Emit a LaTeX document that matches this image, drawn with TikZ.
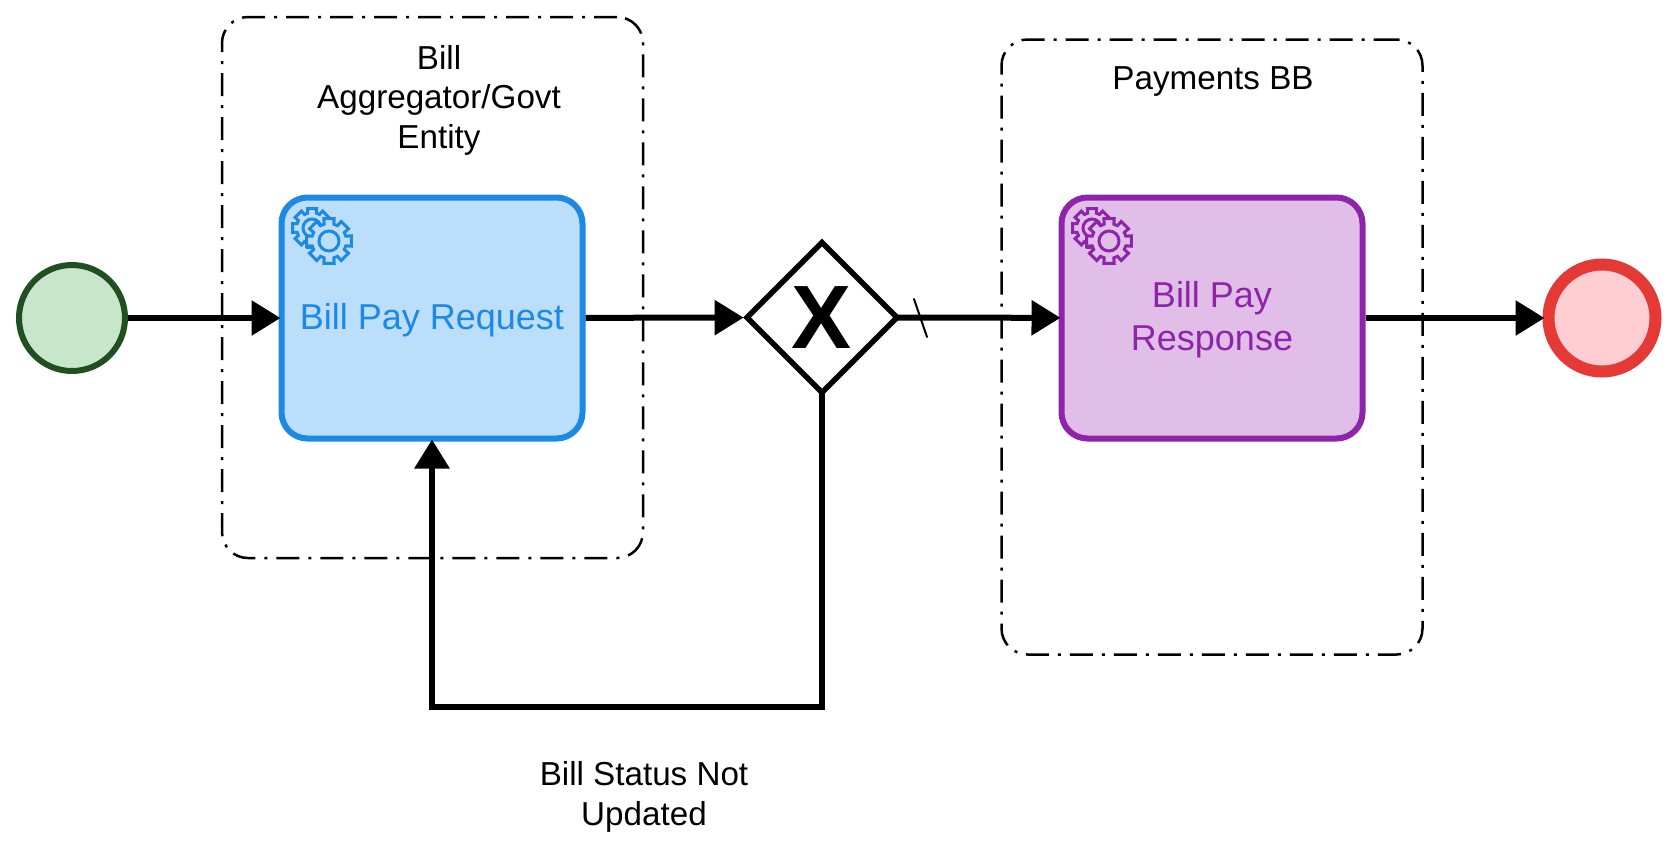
\documentclass[tikz,border=0pt]{standalone}
\usepackage{fontspec}
\setmainfont{Liberation Sans}
\usetikzlibrary{shapes.geometric, arrows.meta}
\definecolor{taskblue}{HTML}{1E88E5}
\definecolor{taskbluebg}{HTML}{BBDEFB}
\definecolor{taskpurple}{HTML}{8E24AA}
\definecolor{taskpurplebg}{HTML}{E1BEE7}
\definecolor{startgreen}{HTML}{205022}
\definecolor{startgreenbg}{HTML}{C8E6C9}
\definecolor{endred}{HTML}{E53935}
\definecolor{endredbg}{HTML}{FFCDD2}
\tikzset{
  % gruppo tratteggiato
  groupbox/.style={draw=black, rounded corners=26pt, line width=2.5pt, inner sep=0pt,
    dash pattern=on 23pt off 9pt on 3pt off 9pt},
  % attivita
  task/.style={rounded corners=26pt, line width=6pt, inner sep=0pt, minimum width=301pt,
    minimum height=241pt},
  task blue/.style={task, draw=taskblue, fill=taskbluebg},
  task purple/.style={task, draw=taskpurple, fill=taskpurplebg},
  tasklbl/.style={align=center, font=\fontsize{36}{43}\selectfont},
  % eventi
  startev/.style={circle, draw=startgreen, fill=startgreenbg, line width=6pt,
    minimum size=106pt, inner sep=0pt},
  endev/.style={circle, draw=endred, fill=endredbg, line width=12pt,
    minimum size=107pt, inner sep=0pt},
  % gateway esclusivo
  gateway/.style={diamond, aspect=1, draw=black, fill=white, line width=5.5pt, minimum width=150pt,
    minimum height=150pt, inner sep=0pt, outer sep=0pt, font=\fontsize{90}{90}\selectfont\bfseries},
  % collegamenti
  flow/.style={line width=6pt, shorten >=-2pt, -{Triangle[length=29pt, width=34pt]}},
  defaultmark/.style={line width=2pt, line cap=round},
  % etichette
  lbl/.style={align=center, font=\fontsize{33.2}{39.5}\selectfont},
  gearline/.style={line width=3pt, line join=miter},
}
% ingranaggio: centro, raggio esterno, raggio base, raggio anello, colore, sfondo
\newcommand{\gearicon}[6]{
  \draw[gearline, draw=#5, fill=#6, shift={#1}] (-16:#3)
    \foreach \a in {0,45,...,315} { -- ({\a-13}:#2) -- ({\a+13}:#2) -- ({\a+16}:#3) -- ({\a+29}:#3) } -- cycle;
  \draw[gearline, draw=#5, shift={#1}] (0,0) circle (#4);
}
\begin{document}
\begin{tikzpicture}[x=1pt, y=-1pt]
  \useasboundingbox (0,0) rectangle (1674,855);
  \fill[white] (0,0) rectangle (1674,855);

  \node[groupbox, minimum width=421pt, minimum height=541pt] (billgroup) at (432.5,287.5) {};
  \node[groupbox, minimum width=421pt, minimum height=615pt] (paygroup) at (1212,347) {};
  \node[lbl] (billlbl) at (439,100) {Bill\\Aggregator/Govt\\Entity};
  \node[lbl] (paylbl) at (1213,82) {Payments BB};

  \node[startev] (start) at (72,318) {};
  \node[task blue] (request) at (432,318) {};
  \node[tasklbl, text=taskblue] (requestlbl) at (432,320) {Bill Pay Request};
  \node[gateway] (gate) at (822,317.5) {X};
  \node[task purple] (response) at (1212,318) {};
  \node[tasklbl, text=taskpurple] (responselbl) at (1212,320) {Bill Pay\\Response};
  \node[endev] (end) at (1602,318) {};

  \gearicon{(312,228)}{20}{15.5}{9}{taskblue}{taskbluebg}
  \gearicon{(329,241)}{23}{17.5}{10}{taskblue}{taskbluebg}
  \gearicon{(1092,228)}{20}{15.5}{9}{taskpurple}{taskpurplebg}
  \gearicon{(1109,241)}{23}{17.5}{10}{taskpurple}{taskpurplebg}

  \draw[flow] (start) -- (request);
  \draw[flow, shorten >=3.5pt] (request) -- (gate);
  \draw[flow] (gate) -- (response);
  \draw[flow] (response) -- (end);
  \coordinate (loop) at (432,707);
  \draw[flow] (gate.south) |- (loop) -- (request.south);

  \coordinate (marka) at (914,299);
  \coordinate (markb) at (927,337);
  \draw[defaultmark] (marka) -- (markb);

  \node[lbl] (looplbl) at (644,797) {Bill Status Not\\Updated};
\end{tikzpicture}
\end{document}
